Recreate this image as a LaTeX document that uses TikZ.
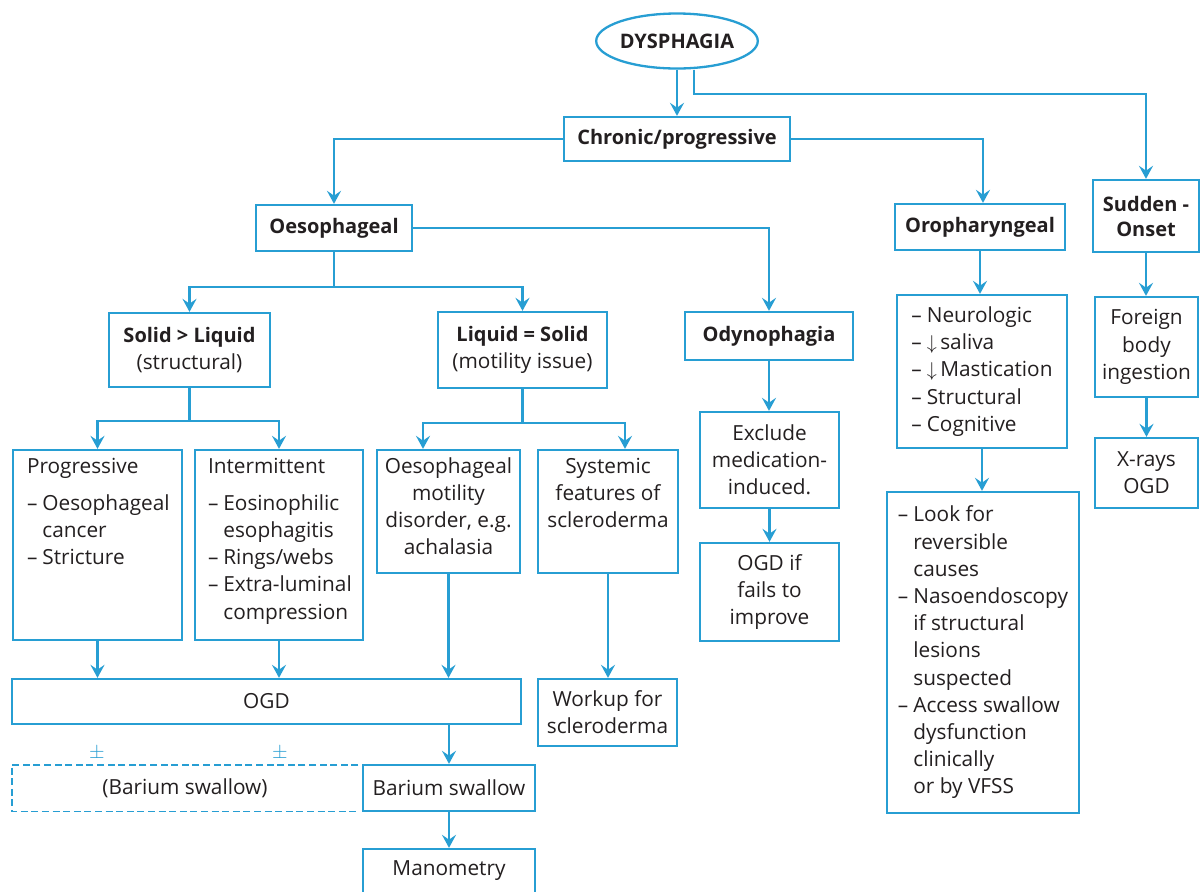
\documentclass[tikz,border=0pt]{standalone}
\usepackage{fontspec}
\setmainfont{Open Sans}
\usetikzlibrary{arrows.meta,shapes.geometric,calc}
\definecolor{fc}{RGB}{39,158,211}
\definecolor{tc}{RGB}{35,31,32}
\newcommand\di{\mbox{–\kern2.5pt}}
\newcommand\hi{\phantom{\di}}
\newcommand\tb[3]{\parbox[c][#2][t]{#1}{#3}}
\hfuzz=20pt
\begin{document}
\begin{tikzpicture}[x=0.5pt,y=-0.5pt,
  every node/.style={font=\fontsize{10.4}{13.6}\selectfont, text=tc},
  bf/.style={font=\fontsize{10}{12.5}\selectfont\bfseries},
  box/.style={draw=fc, line width=1.15pt, fill=white, inner sep=0pt, align=center},
  arr/.style={draw=fc, line width=1.15pt, -{Stealth[length=6.5pt,width=7pt,inset=2.4pt]}},
  dline/.style={draw=fc, line width=0.9pt, dash pattern=on 3.5pt off 1.8pt}]
\useasboundingbox (0,0) rectangle (1201,891);
\clip (0,0) rectangle (1201,891);
\fill[white] (0,0) rectangle (1201,891);

\node[box, bf, ellipse, minimum width=79.5pt, minimum height=27.5pt] (dys) at (677,41) {DYSPHAGIA};
\node[box, bf, minimum width=113pt, minimum height=22pt] (chronic) at (677,139) {Chronic/progressive};
\node[box, bf, minimum width=78pt, minimum height=23pt] (oeso) at (334,228) {Oesophageal};
\node[box, bf, minimum width=85pt, minimum height=23pt] (oro) at (980,227) {Oropharyngeal};
\node[box, bf, minimum width=53pt, minimum height=36pt] (sudden) at (1146,216) {Sudden -\\Onset};
\node[box, minimum width=80.5pt, minimum height=37pt] (solid) at (189.5,350) {{\fontsize{10}{12.5}\selectfont\bfseries Solid > Liquid}\\(structural)};
\node[box, minimum width=84.5pt, minimum height=38pt] (liquid) at (522.5,350) {{\fontsize{10}{12.5}\selectfont\bfseries Liquid = Solid}\\(motility issue)};
\node[box, bf, minimum width=84pt, minimum height=24pt] (odyn) at (769,336) {Odynophagia};
\node[box, align=left, minimum width=85pt, minimum height=76.5pt] (orolist) at (982,371.5)
  {\di Neurologic\\\di$\downarrow$\,saliva\\\di$\downarrow$\,Mastication\\\di Structural\\\di Cognitive};
\node[box, minimum width=51.5pt, minimum height=50pt] (foreign) at (1146.5,347) {Foreign\\body\\ingestion};
\node[box, minimum width=51.5pt, minimum height=35pt] (xray) at (1146.5,473) {X-rays\\OGD};
\node[box, minimum width=84.5pt, minimum height=95pt] (prog) at (97.5,545)
  {\tb{70.5pt}{95pt}{\raggedright\rule{0pt}{11.5pt}Progressive\\[5pt]\di\mbox{Oesophageal}\\\hi cancer\\\di Stricture}};
\node[box, minimum width=84pt, minimum height=95pt] (inter) at (279,545)
  {\tb{71pt}{95pt}{\raggedright\rule{0pt}{11.5pt}Intermittent\\[5pt]\di\mbox{Eosinophilic}\\\hi\mbox{esophagitis}\\\di\mbox{Rings/webs}\\\di\mbox{Extra-luminal}\\\hi\mbox{compression}}};
\node[box, minimum width=71.5pt, minimum height=61.5pt] (motil) at (448.5,511.5)
  {\tb{71.5pt}{61.5pt}{\centering\rule{0pt}{11.5pt}Oesophageal\\motility\\disorder, e.g.\\achalasia}};
\node[box, minimum width=70pt, minimum height=61.5pt] (syst) at (608,511.5)
  {\tb{70pt}{61.5pt}{\centering\rule{0pt}{11.5pt}Systemic\\features of\\scleroderma}};
\node[box, minimum width=69.5pt, minimum height=48pt] (excl) at (769.5,460) {Exclude\\medication-\\induced.};
\node[box, minimum width=69.5pt, minimum height=49pt] (ogdif) at (769.5,592) {OGD if\\fails to\\improve};
\node[box, align=left, minimum width=96pt, minimum height=160.5pt] (oromgmt) at (983,652.5)
  {\di Look for\\\hi reversible\\\hi causes\\\di Nasoendoscopy\\\hi if structural\\\hi lesions\\\hi suspected\\\di Access swallow\\\hi dysfunction\\\hi clinically\\\hi or by VFSS};
\node[box, minimum width=254.5pt, minimum height=22.5pt] (ogd) at (266.5,701.5) {OGD};
\node[box, minimum width=69.5pt, minimum height=33.5pt] (workup) at (607.5,712.5) {Workup for\\scleroderma};
\node[inner sep=0pt, minimum width=173pt, minimum height=23pt] (bs) at (185,788) {(Barium swallow)};
\node[box, minimum width=86pt, minimum height=23pt] (barium) at (449,788) {Barium swallow};
\node[box, minimum width=86pt, minimum height=22pt] (mano) at (449,871) {Manometry};
\node[text=fc, inner sep=0pt] (pm1) at (97,753) {$\pm$};
\node[text=fc, inner sep=0pt] (pm2) at (280,753) {$\pm$};

\draw[dline] (bs.north east) -- (bs.north west) -- (bs.south west) -- (bs.south east);

\draw[arr] (dys.south) -- (chronic.north);
\draw[arr] ([xshift=8.5pt]dys.south) -- ++(0,24) -| (sudden.north);
\draw[arr] (chronic.west) -| (oeso.north);
\draw[arr] (chronic.east) -| ([xshift=1.5pt]oro.north);
\draw[arr] (oeso.east) -| (odyn.north);
\draw[arr] (oeso.south) -- ++(0,35) coordinate (oj) -| (solid.north);
\draw[arr] (oj) -| (liquid.north);
\draw[arr] (solid.south) -- ++(0,33) coordinate (sj) -| (prog.north);
\draw[arr] (sj) -| (inter.north);
\draw[arr] (liquid.south) -- ++(0,34) coordinate (lj) -| ([xshift=-12.75pt]motil.north);
\draw[arr] (lj) -| ([xshift=8.5pt]syst.north);
\draw[arr] (odyn.south) -- (odyn.south |- excl.north);
\draw[arr] (excl.south) -- (excl.south |- ogdif.north);
\draw[arr] (oro.south) -- (oro.south |- orolist.north);
\draw[arr] (orolist.south) -- (orolist.south |- oromgmt.north);
\draw[arr] (sudden.south) -- (sudden.south |- foreign.north);
\draw[arr] (foreign.south) -- (foreign.south |- xray.north);
\draw[arr] (prog.south) -- (prog.south |- ogd.north);
\draw[arr] (inter.south) -- (inter.south |- ogd.north);
\draw[arr] (motil.south) -- (motil.south |- ogd.north);
\draw[arr] (syst.south) -- (syst.south |- workup.north);
\draw[arr] (barium.north |- ogd.south) -- (barium.north);
\draw[arr] (barium.south) -- (mano.north);
\end{tikzpicture}
\end{document}
